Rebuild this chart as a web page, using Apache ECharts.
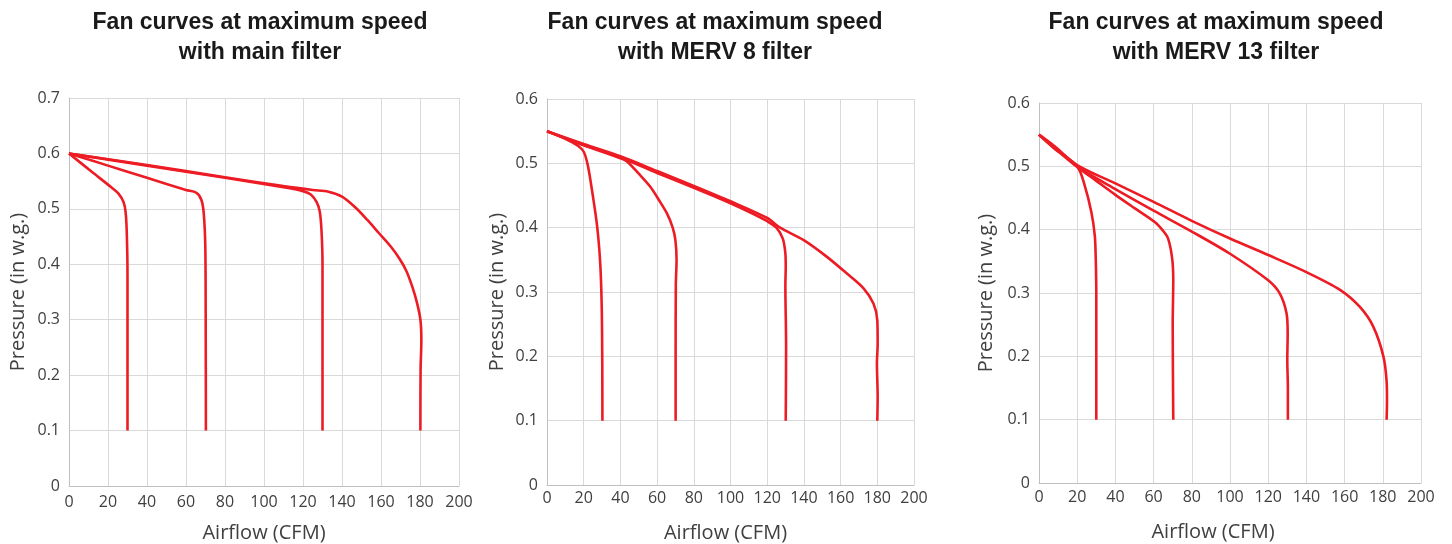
<!DOCTYPE html>
<html>
<head>
<meta charset="utf-8">
<script src="https://cdn.jsdelivr.net/npm/echarts@6/dist/echarts.min.js"></script>
<style>
html,body{margin:0;padding:0;background:#fff;}
#chart{width:1452px;height:544px;}
</style>
</head>
<body>
<div id="chart"></div>
<script>
// ---- Titles ----
const titles = [
  'Fan curves at maximum speed\nwith main filter',
  'Fan curves at maximum speed\nwith MERV 8 filter',
  'Fan curves at maximum speed\nwith MERV 13 filter'
];
const xName = 'Airflow (CFM)';
const yName = 'Pressure (in w.g.)';
const xTicks = ['0','20','40','60','80','100','120','140','160','180','200'];
const yTicksMain = ['0','0.1','0.2','0.3','0.4','0.5','0.6','0.7'];
const yTicksMerv = ['0','0.1','0.2','0.3','0.4','0.5','0.6'];

// ---- Chart 1: main filter, [airflow, pressure] ----
const main30 = [[0,0.6],[12,0.566],[22,0.538],[25.5,0.527],[28,0.512],[29,0.495],[29.6,0.46],[30,0.38],[30,0.25],[30,0.1]];
const main70 = [[0,0.6],[20,0.578],[40,0.556],[60,0.534],[65.3,0.529],[67.9,0.516],[69.1,0.492],[69.9,0.432],[70.1,0.3],[70.2,0.1]];
const main130 = [[0,0.6],[40,0.578],[80,0.556],[110,0.539],[120,0.532],[124,0.526],[127,0.512],[128.6,0.495],[129.5,0.46],[130,0.4],[130,0.25],[130,0.1]];
const main180 = [[0,0.6],[40,0.579],[80,0.557],[110,0.541],[125,0.534],[133,0.531],[140,0.522],[147,0.502],[153,0.48],[159,0.456],[165,0.432],[169.5,0.41],[173,0.388],[176,0.36],[178.5,0.33],[180.2,0.3],[180.7,0.263],[180.3,0.21],[180.2,0.1]];

// ---- Chart 2: MERV 8 ----
const merv8_30 = [[0,0.55],[10,0.538],[17,0.527],[20,0.518],[22,0.5],[23.6,0.475],[27.2,0.405],[29,0.345],[29.8,0.28],[30.1,0.2],[30.2,0.1]];
const merv8_70 = [[0,0.55],[20,0.528],[40,0.508],[43.6,0.503],[50,0.484],[56.2,0.464],[61,0.443],[65.3,0.4225],[68.5,0.4],[70,0.38],[70.6,0.35],[70.2,0.31],[70.1,0.2],[70.1,0.1]];
const merv8_130 = [[0,0.55],[20,0.529],[40,0.509],[60,0.485],[80,0.462],[100,0.438],[112,0.422],[120,0.41],[125,0.4],[128.5,0.383],[129.9,0.36],[130.1,0.34],[129.9,0.31],[130.3,0.215],[130.1,0.1]];
const merv8_180 = [[0,0.55],[20,0.53],[40,0.511],[60,0.488],[80,0.465],[100,0.441],[120,0.415],[127,0.4],[139.7,0.381],[152.4,0.355],[163.3,0.329],[172.4,0.306],[177.9,0.282],[180,0.256],[180.2,0.22],[179.8,0.189],[180.2,0.137],[180,0.1]];

// ---- Chart 3: MERV 13 ----
const merv13_30 = [[0,0.55],[8,0.528],[20,0.5],[23.9,0.47],[27.4,0.428],[29.2,0.391],[29.7,0.355],[30,0.3],[30,0.2],[30,0.1]];
const merv13_70 = [[0,0.55],[8,0.529],[20,0.499],[30,0.477],[40,0.455],[50,0.434],[60.6,0.412],[65,0.398],[67.6,0.386],[69.7,0.355],[70.3,0.32],[70,0.25],[70.3,0.1]];
const merv13_130 = [[0,0.55],[8,0.531],[20,0.5],[40,0.464],[60,0.43],[80,0.397],[100,0.362],[120,0.32],[126.1,0.299],[129.6,0.268],[130.2,0.236],[130,0.194],[130.3,0.15],[130.3,0.1]];
const merv13_180 = [[0,0.55],[8,0.532],[20,0.502],[40,0.473],[60,0.444],[80,0.414],[100,0.386],[120,0.36],[140,0.333],[157.6,0.305],[168,0.278],[175,0.247],[180.3,0.2],[182,0.16],[182.2,0.13],[182,0.1]];

const panels = [
  {curves:[main30,main70,main130,main180], yMax:0.7, yTicks:yTicksMain,
   grid:{left:69, top:98, width:390, height:388}, titleX:255, yGap:41, xGap:37, xMargin:8, xNamePad:0},
  {curves:[merv8_30,merv8_70,merv8_130,merv8_180], yMax:0.6, yTicks:yTicksMerv,
   grid:{left:547, top:99, width:367, height:386}, titleX:710, yGap:40, xGap:38, xMargin:5, xNamePad:10},
  {curves:[merv13_30,merv13_70,merv13_130,merv13_180], yMax:0.6, yTicks:yTicksMerv,
   grid:{left:1039, top:103, width:382, height:380}, titleX:1211, yGap:43, xGap:39, xMargin:6, xNamePad:34}
];

const axisTextColor = '#404040';
const fontFam = '"Open Sans", "DejaVu Sans", sans-serif';
const option = {
  animation:false,
  backgroundColor:'#fff',
  title: panels.map((p,i)=>({
    text: titles[i], left: p.titleX, top: 3, textAlign:'center',
    textStyle:{fontFamily:'"Liberation Sans", Arial, sans-serif', fontWeight:'bold', fontSize:23, lineHeight:30, color:'#1a1a1a'}
  })),
  grid: panels.map(p=>Object.assign({containLabel:false, outerBoundsMode:'none'}, p.grid)),
  xAxis: panels.map((p,i)=>({
    type:'value', gridIndex:i, min:0, max:200, interval:20,
    name:xName, nameLocation:'middle', nameGap:p.xGap,
    nameTextStyle:{fontFamily:fontFam, fontSize:20, color:axisTextColor, padding:[0,p.xNamePad,0,0]},
    axisLine:{show:true, lineStyle:{color:'#bfbfbf', width:1}},
    axisTick:{show:false},
    axisLabel:{fontFamily:fontFam, fontSize:16, color:axisTextColor, margin:p.xMargin,
      formatter:(v)=>xTicks[Math.round(v/20)]},
    splitLine:{show:true, lineStyle:{color:'#d9d9d9', width:1}}
  })),
  yAxis: panels.map((p,i)=>({
    type:'value', gridIndex:i, min:0, max:p.yMax, interval:0.1,
    name:yName, nameLocation:'middle', nameGap:p.yGap, nameRotate:90,
    nameTextStyle:{fontFamily:fontFam, fontSize:20, color:axisTextColor},
    axisLine:{show:true, lineStyle:{color:'#bfbfbf', width:1}},
    axisTick:{show:false},
    axisLabel:{fontFamily:fontFam, fontSize:16, color:axisTextColor, margin:9,
      formatter:(v)=>p.yTicks[Math.round(v*10)]},
    splitLine:{show:true, lineStyle:{color:'#d9d9d9', width:1}}
  })),
  series: []
};
panels.forEach((p,i)=>{
  p.curves.forEach(c=>{
    option.series.push({
      type:'line', xAxisIndex:i, yAxisIndex:i, data:c,
      smooth:0.3, symbol:'none', showSymbol:false,
      lineStyle:{color:'#ED1C24', width:2.6}, itemStyle:{color:'#ED1C24'}
    });
  });
});
const chart = echarts.init(document.getElementById('chart'), null, {renderer:'canvas'});
chart.setOption(option);
</script>
</body>
</html>
